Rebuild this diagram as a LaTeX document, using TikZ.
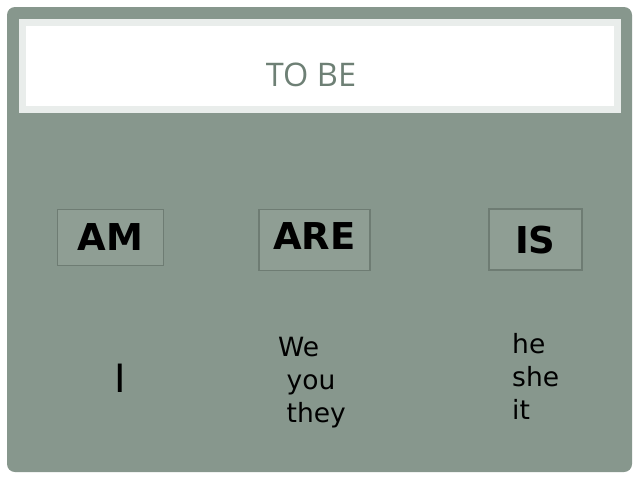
\documentclass[tikz,border=0pt]{standalone}
\usepackage{fontspec}
\setmainfont{DejaVu Sans}
\newfontfamily\titlefont{Open Sans}
\usepackage{tikz}
\definecolor{slide}{RGB}{135,151,141}
\definecolor{verbfill}{RGB}{143,158,148}
\definecolor{verbline}{RGB}{110,124,115}
\definecolor{titleframe}{RGB}{233,237,235}
\definecolor{titletext}{RGB}{110,128,117}

\begin{document}
\begin{tikzpicture}[x=1pt, y=-1pt,
  verb/.style={shape=rectangle, draw=verbline, fill=verbfill, line width=1.5pt,
    inner sep=0pt, font=\fontsize{37}{40}\selectfont\bfseries},
  pron/.style={anchor=north west, inner sep=0pt, align=left,
    font=\fontsize{26.5}{33}\selectfont}]
\useasboundingbox (0,0) rectangle (640,480);
\fill[white] (0,0) rectangle (640,480);
% slide background
\fill[slide, rounded corners=8pt] (7,7) rectangle (632,472);
% title frame
\draw[titleframe, line width=7pt, fill=white] (22.5,22.5) rectangle (617.5,109.5);
\node[anchor=base, inner sep=0pt, text=titletext,
  font=\titlefont\fontsize{32.5}{36}\selectfont] (title) at (311,86.5) {TO BE};
% the three forms
\node[verb, minimum width=106pt, minimum height=56pt] (am) at (110.3,237.3) {AM};
\node[verb, minimum width=111pt, minimum height=61pt, text depth=7pt] (are) at (314.5,239.8) {ARE};
\node[verb, minimum width=93pt, minimum height=61pt] (is) at (535.3,239.7) {IS};
% pronouns under each form
\node[anchor=base west, inner sep=0pt, font=\fontsize{39}{40}\selectfont] (i) at (114,392) {I};
\node[pron] (we) at (278,336.5) {We\\\hspace*{.32em}you\\\hspace*{.32em}they};
\node[pron] (he) at (512,333) {he\\she\\it};
\end{tikzpicture}
\end{document}
